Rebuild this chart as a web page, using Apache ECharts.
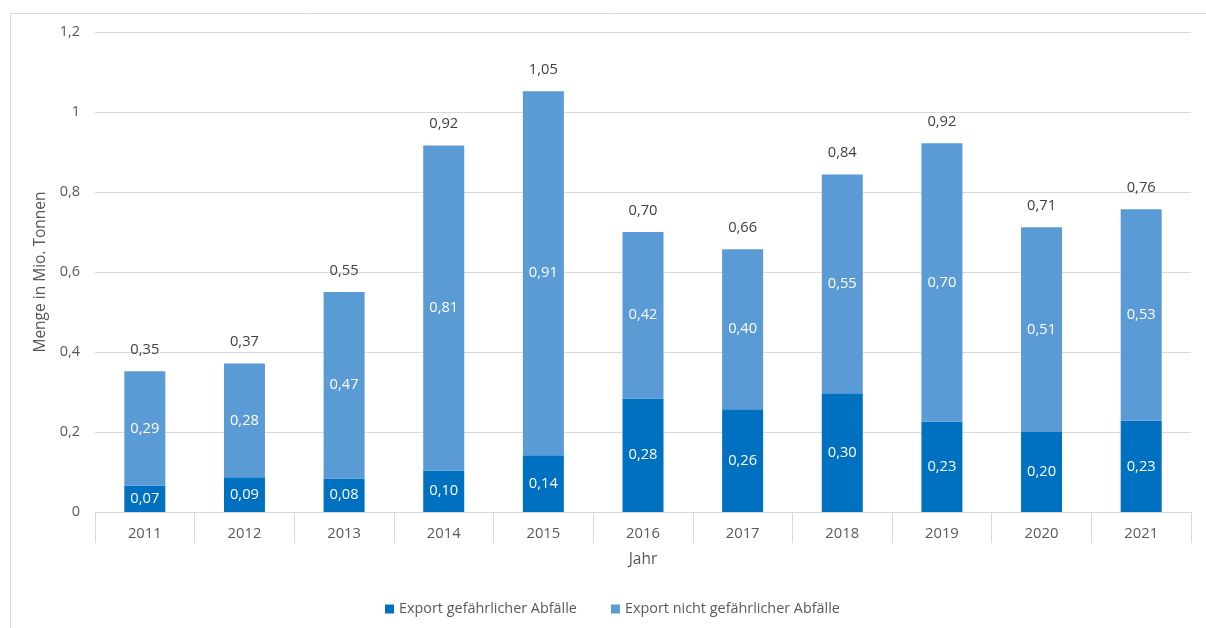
<!DOCTYPE html>
<html>
<head>
<meta charset="utf-8">
<script src="https://cdn.jsdelivr.net/npm/echarts@6/dist/echarts.min.js"></script>
<style>
  html, body { margin: 0; padding: 0; background: #ffffff; }
  #chart { width: 1206px; height: 628px; }
</style>
</head>
<body>
<div id="chart"></div>
<script>
// Years on the category axis
const years = ['2011', '2012', '2013', '2014', '2015', '2016', '2017', '2018', '2019', '2020', '2021'];
// Export of hazardous waste (million tonnes)
const hazardous = [0.066, 0.087, 0.084, 0.104, 0.142, 0.284, 0.257, 0.297, 0.226, 0.200, 0.228];
// Export of non-hazardous waste (million tonnes)
const nonHazardous = [0.286, 0.284, 0.466, 0.812, 0.910, 0.416, 0.400, 0.547, 0.696, 0.512, 0.529];
// Y axis tick values
const yTicks = [0, 0.2, 0.4, 0.6, 0.8, 1, 1.2];

const seriesNames = ['Export gefährlicher Abfälle', 'Export nicht gefährlicher Abfälle'];
const totals = years.map((_, i) => hazardous[i] + nonHazardous[i]);

const fmt2 = v => v.toFixed(2).replace('.', ',');
const fmtAxis = v => String(Math.round(v * 10) / 10).replace('.', ',');

const FONT = '"Open Sans", "Noto Sans", sans-serif';
const TXT = '#595959';

const chart = echarts.init(document.getElementById('chart'), null, { renderer: 'canvas' });

chart.setOption({
  animation: false,
  backgroundColor: '#ffffff',
  textStyle: { fontFamily: FONT },
  graphic: [{
    type: 'rect',
    left: 8, top: 11,
    shape: { width: 1220, height: 640 },
    style: { fill: 'none', stroke: '#d9d9d9', lineWidth: 1 },
    silent: true
  }],
  grid: { left: 95, right: 15, top: 32, bottom: 116, containLabel: false },
  legend: {
    data: seriesNames,
    bottom: 7,
    left: 380,
    itemWidth: 9,
    itemHeight: 9,
    itemGap: 34,
    icon: 'rect',
    textStyle: { color: TXT, fontSize: 14.4, fontFamily: FONT }
  },
  xAxis: {
    type: 'category',
    data: years,
    name: 'Jahr',
    nameLocation: 'middle',
    nameGap: 40,
    nameTextStyle: { color: TXT, fontSize: 15.5, fontFamily: FONT },
    axisLine: { lineStyle: { color: '#d9d9d9', width: 1 } },
    axisTick: { show: true, length: 31, lineStyle: { color: '#d9d9d9' } },
    axisLabel: { color: TXT, fontSize: 14.8, margin: 14, fontFamily: FONT }
  },
  yAxis: {
    type: 'value',
    min: yTicks[0],
    max: yTicks[yTicks.length - 1],
    interval: 0.2,
    name: 'Menge in Mio. Tonnen',
    nameLocation: 'middle',
    nameGap: 46,
    nameTextStyle: { color: TXT, fontSize: 15.5, fontFamily: FONT },
    axisLine: { show: false },
    axisTick: { show: false },
    splitLine: { lineStyle: { color: '#d9d9d9', width: 1 } },
    axisLabel: { color: TXT, fontSize: 14.5, margin: 15, formatter: fmtAxis, fontFamily: FONT }
  },
  series: [
    {
      name: seriesNames[0],
      type: 'bar',
      stack: 'total',
      barWidth: 41,
      data: hazardous,
      itemStyle: { color: '#0070C0' },
      label: {
        show: true, position: 'inside', color: '#ffffff', fontSize: 14.7, fontFamily: FONT,
        formatter: p => fmt2(p.value)
      }
    },
    {
      name: seriesNames[1],
      type: 'bar',
      stack: 'total',
      barWidth: 41,
      data: nonHazardous,
      itemStyle: { color: '#5B9BD5' },
      label: {
        show: true, position: 'inside', color: '#ffffff', fontSize: 14.7, fontFamily: FONT,
        formatter: p => fmt2(p.value)
      }
    },
    {
      // zero-height cap carrying the total label
      name: 'Summe',
      type: 'bar',
      stack: 'total',
      barWidth: 41,
      data: totals.map(() => 0),
      itemStyle: { color: 'transparent' },
      label: {
        show: true, position: 'top', distance: 14, color: '#404040', fontSize: 14.7, fontFamily: FONT,
        formatter: p => fmt2(totals[p.dataIndex])
      },
      tooltip: { show: false }
    }
  ]
});
</script>
</body>
</html>
